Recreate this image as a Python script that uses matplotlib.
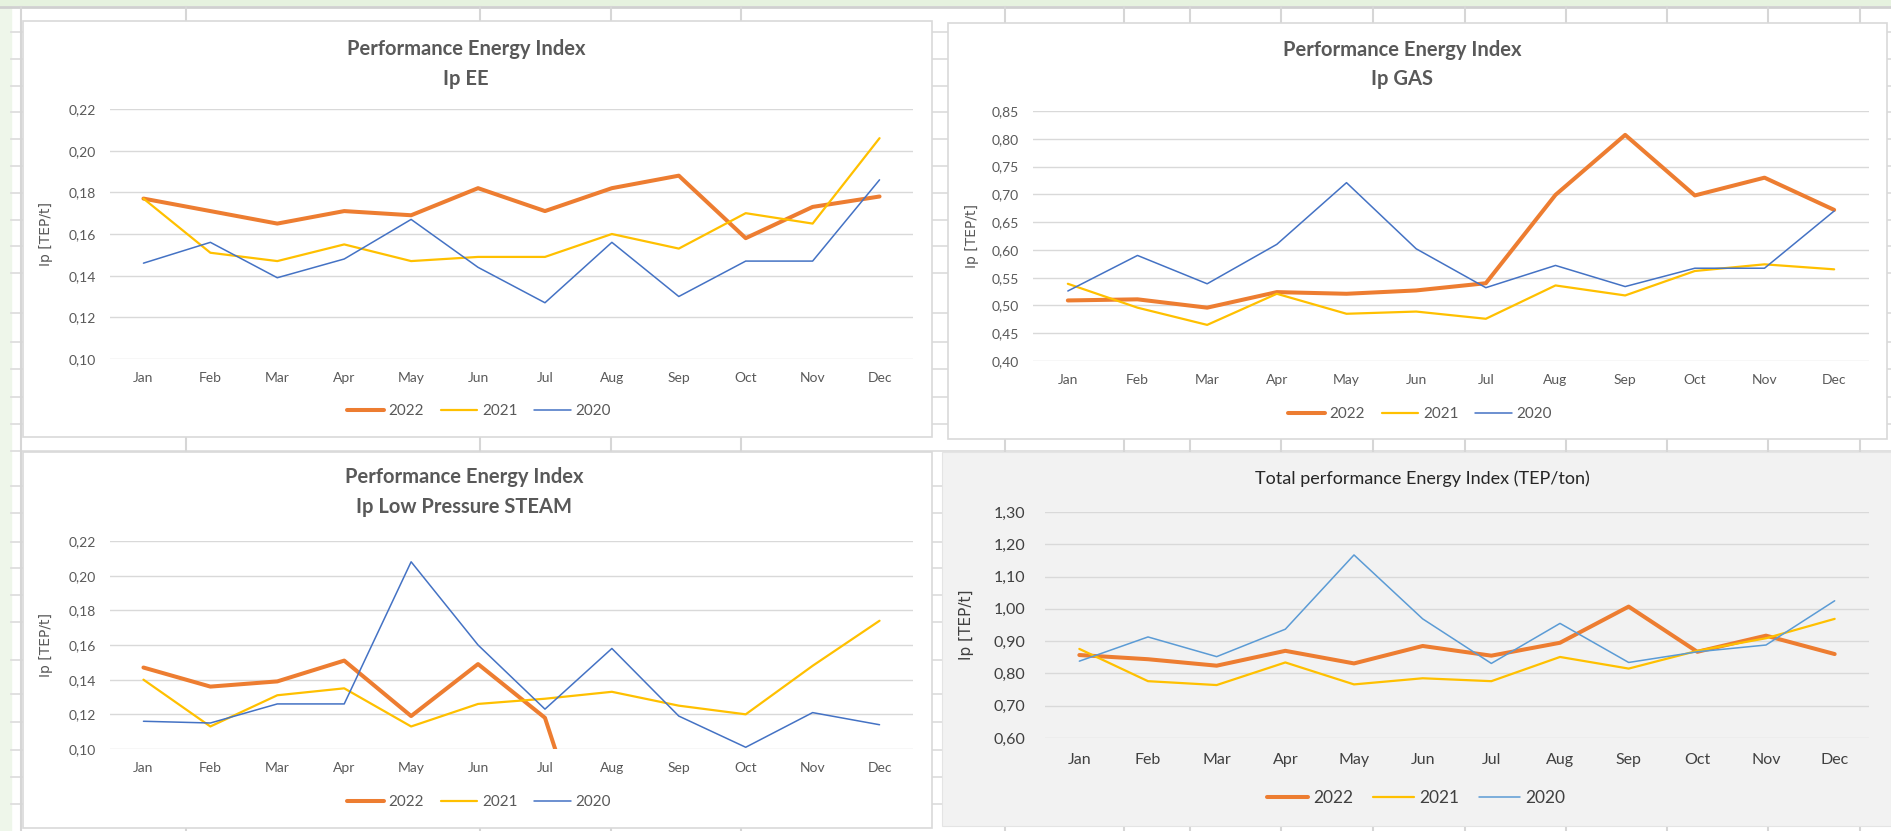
import numpy as np
import matplotlib.pyplot as plt
from matplotlib.patches import Rectangle

# Data
months = ['Jan', 'Feb', 'Mar', 'Apr', 'May', 'Jun', 'Jul', 'Aug', 'Sep', 'Oct', 'Nov', 'Dec']
years = ['2022', '2021', '2020']

ee_2022 = [0.177, 0.171, 0.165, 0.171, 0.169, 0.182, 0.171, 0.182, 0.188, 0.158, 0.173, 0.178]
ee_2021 = [0.177, 0.151, 0.147, 0.155, 0.147, 0.149, 0.149, 0.160, 0.153, 0.170, 0.165, 0.206]
ee_2020 = [0.146, 0.156, 0.139, 0.148, 0.167, 0.144, 0.127, 0.156, 0.130, 0.147, 0.147, 0.186]

gas_2022 = [0.509, 0.511, 0.496, 0.524, 0.521, 0.527, 0.540, 0.699, 0.807, 0.698, 0.730, 0.672]
gas_2021 = [0.539, 0.496, 0.465, 0.521, 0.485, 0.489, 0.476, 0.536, 0.518, 0.562, 0.574, 0.565]
gas_2020 = [0.526, 0.590, 0.539, 0.610, 0.721, 0.602, 0.532, 0.572, 0.534, 0.567, 0.567, 0.670]

steam_2022 = [0.147, 0.136, 0.139, 0.151, 0.119, 0.149, 0.118, 0.0, 0.0, 0.0, 0.0, 0.0]
steam_2021 = [0.140, 0.113, 0.131, 0.135, 0.113, 0.126, 0.129, 0.133, 0.125, 0.120, 0.148, 0.174]
steam_2020 = [0.116, 0.115, 0.126, 0.126, 0.208, 0.160, 0.123, 0.158, 0.119, 0.101, 0.121, 0.114]

tot_2022 = [0.857, 0.844, 0.824, 0.870, 0.831, 0.885, 0.855, 0.895, 1.007, 0.867, 0.917, 0.860]
tot_2021 = [0.876, 0.776, 0.764, 0.834, 0.766, 0.785, 0.776, 0.851, 0.815, 0.870, 0.909, 0.969]
tot_2020 = [0.838, 0.913, 0.852, 0.937, 1.167, 0.969, 0.831, 0.955, 0.834, 0.867, 0.888, 1.025]

plt.rcParams['font.family'] = ['Lato', 'DejaVu Sans']

W, H = 1891, 831
fig = plt.figure(figsize=(W / 100, H / 100), dpi=100)
fig.patch.set_facecolor('white')


def px_axes(x0, y0, x1, y1):
    return fig.add_axes([x0 / W, 1 - y1 / H, (x1 - x0) / W, (y1 - y0) / H])


def fig_text(x, y, s, **kw):
    fig.text(x / W, 1 - y / H, s, ha='center', va='center', **kw)


# spreadsheet background
bg = fig.add_axes([0, 0, 1, 1])
bg.set_xlim(0, W)
bg.set_ylim(H, 0)
bg.axis('off')
bg.add_patch(Rectangle((0, 0), 11, H, color='#eef6ea', zorder=0))
bg.add_patch(Rectangle((0, 0), W, 5, color='#e6f2df', zorder=0))
bg.axhline(7, color='#d0d0d0', lw=2, zorder=1)
for yy in list(np.arange(32, 300, 26.8)) + [313, 342, 369, 397, 424, 451, 486, 513, 542, 568, 595, 622, 660, 694, 722, 750, 777, 804]:
    bg.plot([11, W], [yy, yy], color='#dcdcdc', lw=1.2, zorder=1)
for xx in [21, 186, 480, 611, 741, 1005, 1124, 1190, 1281, 1373, 1465, 1566, 1667, 1768, 1860]:
    bg.plot([xx, xx], [7, H], color='#d6d6d6', lw=1.5, zorder=1)

# chart boxes
bg.add_patch(Rectangle((23, 21), 909, 416, facecolor='white', edgecolor='#d9d9d9', lw=1.2, zorder=2))
bg.add_patch(Rectangle((948, 23), 939, 416, facecolor='white', edgecolor='#d9d9d9', lw=1.2, zorder=2))
bg.add_patch(Rectangle((23, 452), 909, 376, facecolor='white', edgecolor='#d9d9d9', lw=1.2, zorder=2))
bg.add_patch(Rectangle((942, 452), 949, 374, facecolor='#f2f2f2', edgecolor='#e4e4e4', lw=0.8, zorder=2))

orange, yellow, blue = '#ed7d31', '#ffc000', '#4472c4'


def draw_chart(box, series, colors, widths, ylim, step, tick_kw, ypad, xpad, ylabel_x, legend_xy, ylab_kw):
    ax = px_axes(*box)
    ax.set_facecolor('none')
    x = np.arange(len(months))
    for vals, c, lw, lab in zip(series, colors, widths, years):
        ax.plot(x, vals, color=c, lw=lw, label=lab, solid_capstyle='round', solid_joinstyle='round')
    ax.set_xlim(-0.5, 11.5)
    ax.set_ylim(*ylim)
    ticks = np.arange(ylim[0], ylim[1] + step / 2, step)
    ax.set_yticks(ticks)
    ax.set_yticklabels([f'{v:.2f}'.replace('.', ',') for v in ticks], **tick_kw)
    ax.set_xticks(x)
    ax.set_xticklabels(months, **tick_kw)
    ax.grid(axis='y', color='#d9d9d9', lw=1.0)
    ax.set_axisbelow(True)
    for s in ax.spines.values():
        s.set_visible(False)
    ax.tick_params(axis='y', length=0, pad=ypad)
    ax.tick_params(axis='x', length=0, pad=xpad)
    ax.set_ylabel('Ip [TEP/t]', **ylab_kw)
    ax.yaxis.set_label_coords((ylabel_x - box[0]) / (box[2] - box[0]), 0.5)
    leg = ax.legend(loc='center', bbox_to_anchor=(legend_xy[0] / W, 1 - legend_xy[1] / H),
                    bbox_transform=fig.transFigure, ncol=3, frameon=False,
                    handlelength=2.4, handletextpad=0.3, columnspacing=1.1,
                    prop={'size': tick_kw['fontsize'] + 1})
    for t in leg.get_texts():
        t.set_color(tick_kw['color'])
    return ax


small_ticks = {'fontsize': 10, 'color': '#595959'}
ylab_small = {'fontsize': 10, 'color': '#595959', 'family': ['DejaVu Sans']}
title_kw = {'fontsize': 14.5, 'fontweight': 'bold', 'color': '#595959'}

# Ip EE
draw_chart((110, 109, 913, 359), [ee_2022, ee_2021, ee_2020], [orange, yellow, blue], [2.9, 1.6, 1.1],
           (0.10, 0.22), 0.02, small_ticks, 10, 9, 53, (479, 411), ylab_small)
fig_text(466, 49, 'Performance Energy Index', **title_kw)
fig_text(466, 79, 'Ip EE', **title_kw)

# Ip GAS
draw_chart((1033, 111, 1869, 361), [gas_2022, gas_2021, gas_2020], [orange, yellow, blue], [2.9, 1.6, 1.1],
           (0.40, 0.85), 0.05, small_ticks, 10, 9, 979, (1420, 414), ylab_small)
fig_text(1402, 50, 'Performance Energy Index', **title_kw)
fig_text(1402, 79, 'Ip GAS', **title_kw)

# Ip Low Pressure STEAM
draw_chart((110, 541, 913, 749), [steam_2022, steam_2021, steam_2020], [orange, yellow, blue], [2.9, 1.6, 1.1],
           (0.10, 0.22), 0.02, small_ticks, 10, 9, 53, (479, 802), ylab_small)
fig_text(464, 477, 'Performance Energy Index', **title_kw)
fig_text(464, 507, 'Ip Low Pressure STEAM', **title_kw)

# Total
big_ticks = {'fontsize': 11.5, 'color': '#404040'}
ylab_big = {'fontsize': 11, 'color': '#404040', 'family': ['DejaVu Sans']}
draw_chart((1045, 512, 1869, 738), [tot_2022, tot_2021, tot_2020], [orange, yellow, '#5b9bd5'], [2.9, 1.6, 1.1],
           (0.60, 1.30), 0.10, big_ticks, 14, 11, 974, (1416, 798), ylab_big)
fig_text(1422, 479, 'Total performance Energy Index (TEP/ton)', fontsize=13, color='#262626')

fig.savefig('out.png', dpi=100)
